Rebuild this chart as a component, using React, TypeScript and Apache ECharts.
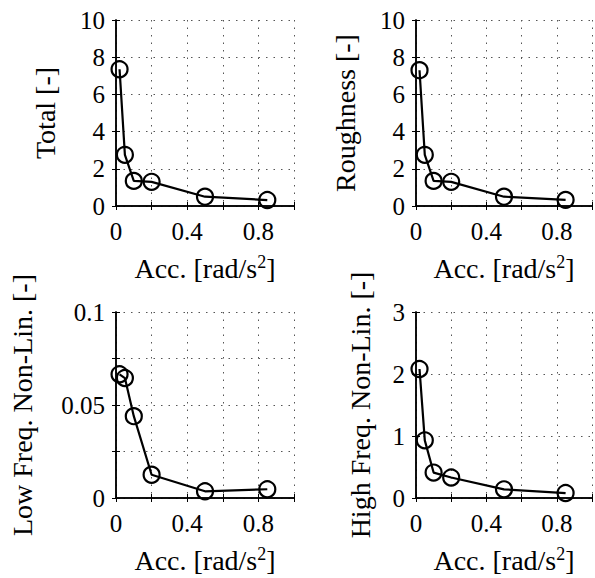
import React, { useEffect, useRef } from "react";
import * as echarts from "echarts";

const accValues = [0.02, 0.05, 0.1, 0.2, 0.5, 0.85];
const totalValues = [7.35, 2.75, 1.35, 1.3, 0.5, 0.32];
const roughnessValues = [7.3, 2.75, 1.35, 1.3, 0.5, 0.33];
const lowFreqValues = [0.0665, 0.0645, 0.044, 0.0125, 0.0036, 0.0047];
const highFreqValues = [2.08, 0.93, 0.41, 0.33, 0.14, 0.08];

const xTickLabels = ["0", "0.4", "0.8"];
const yTitles = ["Total [-]", "Roughness [-]", "Low Freq. Non-Lin. [-]", "High Freq. Non-Lin. [-]"];
const yRanges = [
  { min: 0, max: 10, interval: 2, labels: ["0", "2", "4", "6", "8", "10"] },
  { min: 0, max: 10, interval: 2, labels: ["0", "2", "4", "6", "8", "10"] },
  { min: 0, max: 0.1, interval: 0.025, labels: ["0", "0.05", "0.1"] },
  { min: 0, max: 3, interval: 1, labels: ["0", "1", "2", "3"] },
];
const seriesValues = [totalValues, roughnessValues, lowFreqValues, highFreqValues];

const FONT = "'Liberation Serif', 'Times New Roman', serif";

export default function App() {
  const ref = useRef<HTMLDivElement>(null);
  useEffect(() => {
    if (!ref.current) return;
    const chart = echarts.init(ref.current, null, { renderer: "svg" });
    const grids = [
      { left: 116, top: 20, width: 178, height: 186 },
      { left: 416, top: 20, width: 177, height: 186 },
      { left: 116, top: 312, width: 178, height: 186 },
      { left: 416, top: 312, width: 177, height: 186 },
    ];
    const yNameGaps = [57, 57, 80, 42];
    const xAxes: any[] = [];
    const yAxes: any[] = [];
    const series: any[] = [];
    const fmtNum = (v: number) => {
      const r = Math.round(v * 1000) / 1000;
      return String(r);
    };
    grids.forEach((g, i) => {
      const yr = yRanges[i];
      xAxes.push({
        type: "value",
        gridIndex: i,
        min: 0,
        max: 1,
        interval: 0.2,
        position: "bottom",
        axisLine: { show: true, lineStyle: { color: "#000", width: 1.5 } },
        axisTick: { show: true, inside: true, length: 4, lineStyle: { color: "#000" } },
        axisLabel: {
          show: true,
          margin: 13,
          fontFamily: FONT,
          fontWeight: "normal",
          fontSize: 25,
          color: "#000",
          formatter: (v: number) => {
            const s = fmtNum(v);
            return xTickLabels.includes(s) ? s : "";
          },
        },
        splitLine: { show: true, lineStyle: { color: "#555", width: 1, type: [1.5, 6] } },
        name: "{n|Acc. [rad/s}{s|2}{n|]}",
        nameLocation: "middle",
        nameGap: 47,
        nameTextStyle: {
          fontFamily: FONT,
          fontWeight: "normal",
          fontSize: 28,
          color: "#000",
          rich: {
            n: { fontFamily: FONT, fontWeight: "normal", fontSize: 28, color: "#000", lineHeight: 30 },
            s: { fontFamily: FONT, fontWeight: "normal", fontSize: 18, color: "#000", lineHeight: 12, verticalAlign: "top" },
          },
        },
      });
      xAxes.push({
        type: "value",
        gridIndex: i,
        min: 0,
        max: 1,
        interval: 0.2,
        position: "top",
        axisLine: { show: true, lineStyle: { color: "#000", width: 1.5 } },
        axisTick: { show: true, inside: true, length: 4, lineStyle: { color: "#000" } },
        axisLabel: { show: false },
        splitLine: { show: false },
      });
      yAxes.push({
        type: "value",
        gridIndex: i,
        min: yr.min,
        max: yr.max,
        interval: yr.interval,
        position: "left",
        axisLine: { show: true, lineStyle: { color: "#000", width: 1.5 } },
        axisTick: { show: true, inside: true, length: 4, lineStyle: { color: "#000" } },
        axisLabel: {
          show: true,
          margin: 11,
          fontFamily: FONT,
          fontWeight: "normal",
          fontSize: 25,
          color: "#000",
          formatter: (v: number) => {
            const s = fmtNum(v);
            return yr.labels.includes(s) ? s : "";
          },
        },
        splitLine: { show: true, lineStyle: { color: "#555", width: 1, type: [1.5, 6] } },
        name: yTitles[i],
        nameLocation: "middle",
        nameGap: yNameGaps[i],
        nameRotate: 90,
        nameTextStyle: { fontFamily: FONT, fontWeight: "normal", fontSize: 28, color: "#000" },
      });
      yAxes.push({
        type: "value",
        gridIndex: i,
        min: yr.min,
        max: yr.max,
        interval: yr.interval,
        position: "right",
        axisLine: { show: true, lineStyle: { color: "#000", width: 1.5 } },
        axisTick: { show: true, inside: true, length: 4, lineStyle: { color: "#000" } },
        axisLabel: { show: false },
        splitLine: { show: false },
      });
      series.push({
        type: "line",
        xAxisIndex: i * 2,
        yAxisIndex: i * 2,
        data: accValues.map((x, k) => [x, seriesValues[i][k]]),
        symbol: "circle",
        symbolSize: 16,
        showSymbol: true,
        lineStyle: { color: "#000", width: 2.2 },
        itemStyle: { color: "rgba(0,0,0,0)", borderColor: "#000", borderWidth: 2.2 },
        z: 5,
      });
    });
    chart.setOption({
      animation: false,
      backgroundColor: "#fff",
      textStyle: { fontFamily: FONT },
      grid: grids.map((g) => ({ ...g, containLabel: false })),
      xAxis: xAxes,
      yAxis: yAxes,
      series,
    });
    return () => chart.dispose();
  }, []);
  return (
    <div
      ref={ref}
      style={{ position: "fixed", left: 0, top: 0, width: 595, height: 578, background: "#fff" }}
    />
  );
}
